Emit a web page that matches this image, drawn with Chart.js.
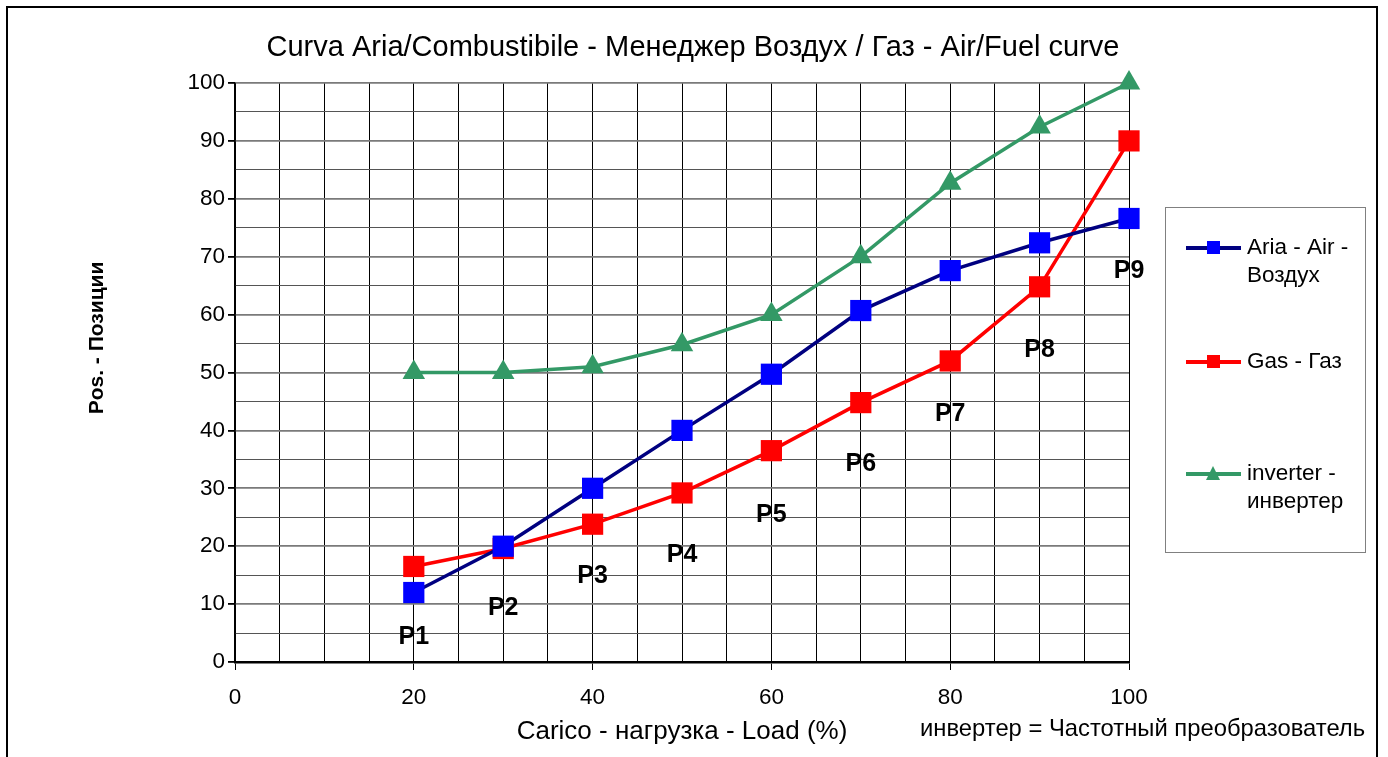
<!DOCTYPE html>
<html><head><meta charset="utf-8">
<script src="https://cdn.jsdelivr.net/npm/chart.js@4/dist/chart.umd.min.js"></script>
<style>html,body{margin:0;padding:0;background:#fff}#wrap{width:1388px;height:757px}</style>
</head><body><div id="wrap"><canvas id="c" width="1388" height="757"></canvas></div>
<script>
const loads = [20, 30, 40, 50, 60, 70, 80, 90, 100];
const airValues = [12, 20, 30, 40, 49.7, 60.7, 67.6, 72.4, 76.6];
const gasValues = [16.5, 19.6, 23.8, 29.2, 36.5, 44.8, 52, 64.8, 90];
const inverterValues = [50, 50, 51, 54.8, 60, 70, 82.7, 92.4, 100];
const pointLabels = ['P1','P2','P3','P4','P5','P6','P7','P8','P9'];
const pointLabelY = [4.3, 9.3, 14.9, 18.4, 25.3, 34.2, 42.8, 53.8, 67.5];
const seriesNames = [['Aria - Air -', 'Воздух'], ['Gas - Газ'], ['inverter -', 'инвертер']];
const yTicks = [0,10,20,30,40,50,60,70,80,90,100];
const xTicks = [0,20,40,60,80,100];
const titleText = 'Curva Aria/Combustibile - Менеджер Воздух / Газ - Air/Fuel curve';
const xTitle = 'Carico - нагрузка - Load (%)';
const yTitle = 'Pos. - Позиции';
const footnote = 'инвертер = Частотный преобразователь';

const FONT = '"Liberation Sans", Arial, sans-serif';

const toXY = vals => loads.map((x, i) => ({x, y: vals[i]}));

const decor = {
  id: 'decor',
  beforeDraw(chart) {
    const ctx = chart.ctx;
    ctx.save();
    ctx.fillStyle = '#fff';
    ctx.fillRect(0, 0, chart.width, chart.height);
    ctx.strokeStyle = '#000';
    ctx.lineWidth = 2;
    ctx.strokeRect(7, 7, 1370, 780);
    // title
    ctx.fillStyle = '#000';
    ctx.font = '29px ' + FONT;
    ctx.textAlign = 'center';
    ctx.textBaseline = 'middle';
    ctx.fillText(titleText, 693, 48);
    // y title
    ctx.save();
    ctx.translate(97, 338);
    ctx.rotate(-Math.PI / 2);
    ctx.font = 'bold 21px ' + FONT;
    ctx.fillText(yTitle, 0, 0);
    ctx.restore();
    ctx.restore();
  },
  afterDatasetsDraw(chart) {
    const ctx = chart.ctx;
    const xs = chart.scales.x, ys = chart.scales.y;
    ctx.save();
    // point labels
    ctx.font = 'bold 25px ' + FONT;
    ctx.fillStyle = '#000';
    ctx.textAlign = 'center';
    ctx.textBaseline = 'middle';
    pointLabels.forEach((t, i) => {
      ctx.fillText(t, xs.getPixelForValue(loads[i]), ys.getPixelForValue(pointLabelY[i]));
    });
    // legend
    const bx = 1165, by = 207, bw = 200, bh = 345;
    ctx.strokeStyle = '#808080';
    ctx.lineWidth = 1;
    ctx.strokeRect(bx + 0.5, by + 0.5, bw, bh);
    const rowsY = [248, 362, 474];
    ctx.font = '22.5px ' + FONT;
    ctx.textAlign = 'left';
    chart.data.datasets.forEach((ds, i) => {
      const y = rowsY[i];
      ctx.strokeStyle = ds.borderColor;
      ctx.lineWidth = 4;
      ctx.beginPath();
      ctx.moveTo(1186, y); ctx.lineTo(1241, y); ctx.stroke();
      ctx.fillStyle = ds.pointBackgroundColor;
      if (ds.pointStyle === 'triangle') {
        ctx.beginPath();
        ctx.moveTo(1213, y - 8); ctx.lineTo(1220, y + 6); ctx.lineTo(1206, y + 6); ctx.closePath(); ctx.fill();
      } else {
        ctx.fillRect(1207, y - 7, 13, 13);
      }
      ctx.fillStyle = '#000';
      seriesNames[i].forEach((line, j) => ctx.fillText(line, 1247, y + j * 28));
    });
    // footnote
    ctx.font = '23.8px ' + FONT;
    ctx.fillText(footnote, 920, 729);
    ctx.restore();
  }
};

const minorTick = (ctx, step) => (ctx.tick && ctx.tick.value % step === 0);

new Chart(document.getElementById('c'), {
  type: 'line',
  data: {
    datasets: [
      {label: 'Aria - Air - Воздух', data: toXY(airValues), borderColor: '#000080', borderWidth: 3.5, clip: false,
       pointStyle: 'rect', pointRadius: 15, pointHoverRadius: 15, pointBackgroundColor: '#0000FF', pointBorderColor: '#0000FF', pointBorderWidth: 0},
      {label: 'Gas - Газ', data: toXY(gasValues), borderColor: '#FF0000', borderWidth: 3.5, clip: false,
       pointStyle: 'rect', pointRadius: 15, pointHoverRadius: 15, pointBackgroundColor: '#FF0000', pointBorderColor: '#FF0000', pointBorderWidth: 0},
      {label: 'inverter - инвертер', data: toXY(inverterValues), borderColor: '#339966', borderWidth: 3.5, clip: false,
       pointStyle: 'triangle', pointRadius: 13, pointHoverRadius: 13, pointBackgroundColor: '#339966', pointBorderColor: '#339966', pointBorderWidth: 0}
    ]
  },
  options: {
    responsive: false,
    animation: false,
    layout: {padding: {left: 0, right: 259, top: 83, bottom: 0}},
    plugins: {
      legend: {display: false},
      tooltip: {enabled: false},
      title: {display: false}
    },
    scales: {
      x: {
        type: 'linear', min: 0, max: 100,
        afterFit(s) { s.height = 95; },
        ticks: {stepSize: 5, color: '#000', font: {family: FONT, size: 22.5}, padding: 14, maxRotation: 0, autoSkip: false,
                callback: v => (xTicks.includes(v) ? String(v) : '')},
        grid: {color: '#000', lineWidth: 1, drawTicks: true, tickLength: 8,
               tickColor: c => (minorTick(c, 20) ? '#000' : 'rgba(0,0,0,0)')},
        border: {color: '#000', width: 2.5},
        title: {display: true, text: xTitle, color: '#000', font: {family: FONT, size: 26}, padding: {top: 0, bottom: 10}}
      },
      y: {
        min: 0, max: 100,
        afterFit(s) { s.width = 235; },
        ticks: {stepSize: 5, color: '#000', font: {family: FONT, size: 22.5}, padding: 3, autoSkip: false,
                callback: v => (yTicks.includes(v) ? String(v) : '')},
        grid: {color: c => (minorTick(c, 10) ? '#7a7a7a' : '#555'), lineWidth: c => (minorTick(c, 10) ? 1.8 : 1),
               drawTicks: true, tickLength: 7,
               tickColor: c => (minorTick(c, 10) ? '#000' : 'rgba(0,0,0,0)')},
        border: {color: '#000', width: 1.5},
        title: {display: false}
      }
    }
  },
  plugins: [decor]
});
</script>
</body></html>
